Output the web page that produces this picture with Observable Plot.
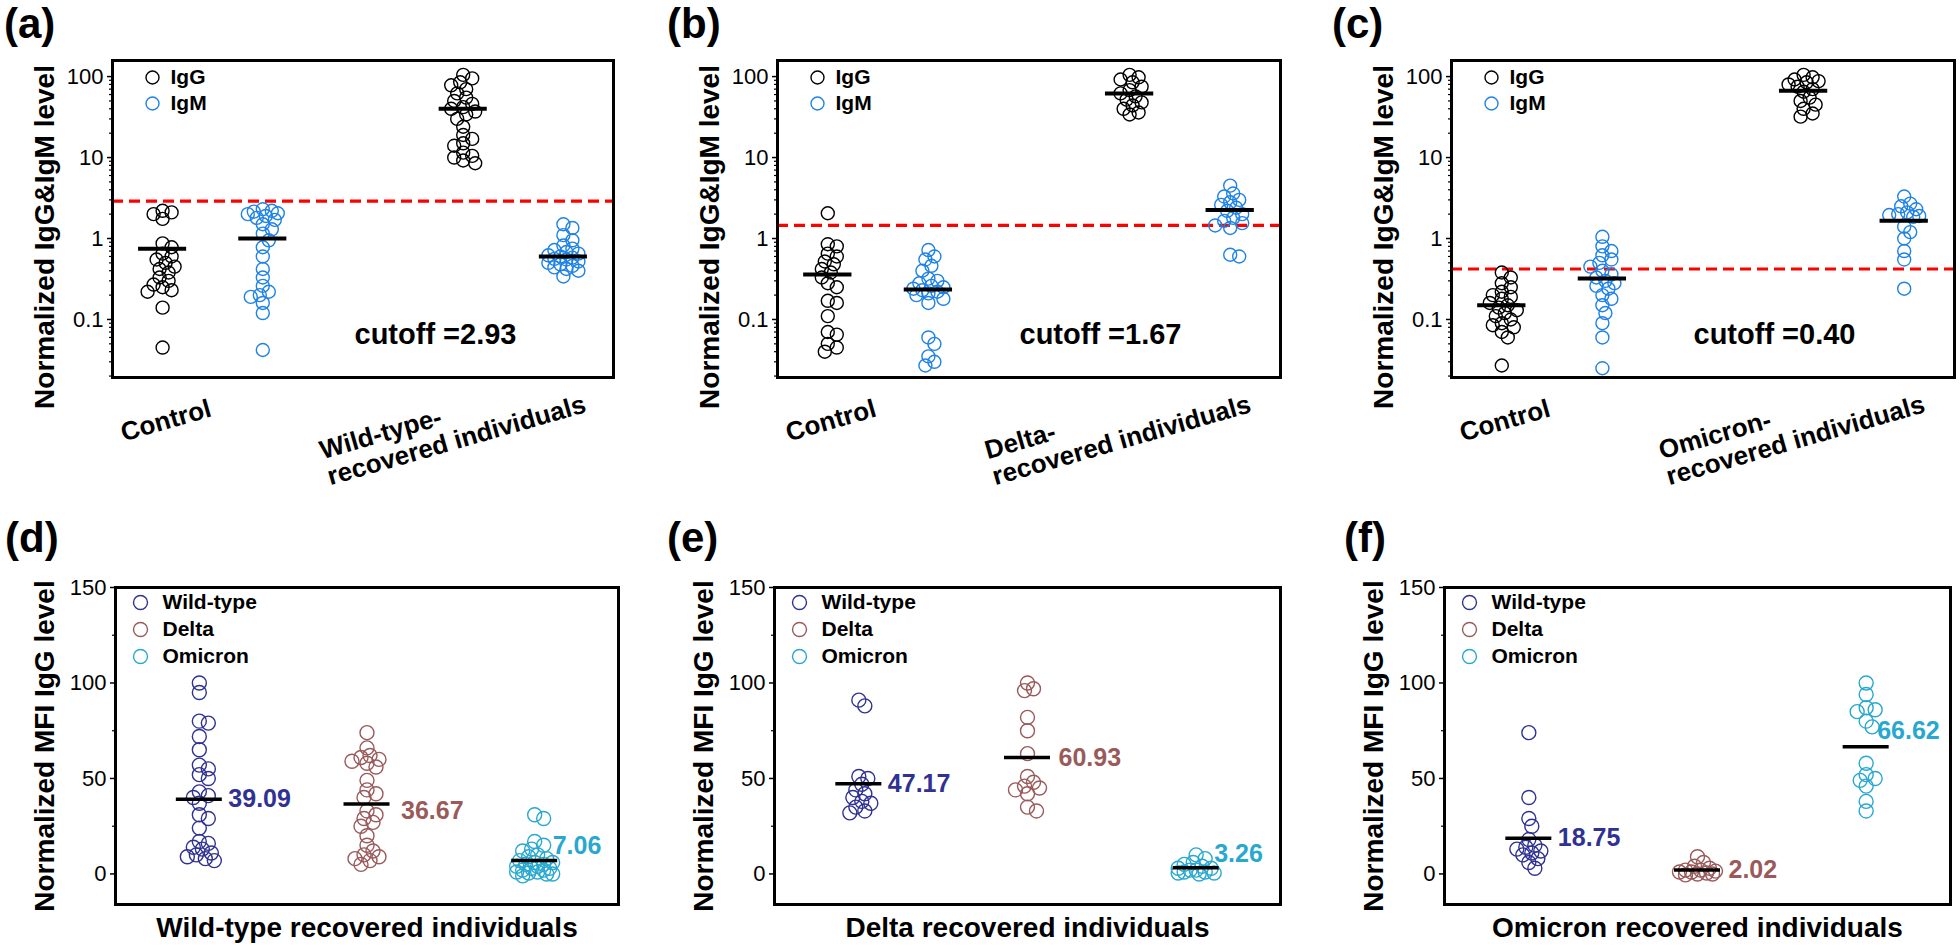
<!DOCTYPE html>
<html><head><meta charset="utf-8">
<script src="https://cdn.jsdelivr.net/npm/d3@7"></script>
<script src="https://cdn.jsdelivr.net/npm/@observablehq/plot@0.6"></script>
<style>
html,body{margin:0;padding:0;background:#fff;}
#fig{position:relative;width:1960px;height:948px;background:#fff;font-family:'Liberation Sans',Arial,Helvetica,sans-serif;overflow:hidden;}
.tag{position:absolute;font-weight:bold;font-size:42px;line-height:1.15;color:#000;}
</style></head><body><div id="fig"></div>
<script>
// ---------------- DATA ----------------
const isotypes = ["IgG", "IgM"];
const variants = ["Wild-type", "Delta", "Omicron"];
const tagsTop = ["(a)", "(b)", "(c)"];
const tagsBottom = ["(d)", "(e)", "(f)"];
const yLabelTop = "Normalized IgG&IgM level";
const yLabelBottom = "Normalized MFI IgG level";
const controlLabel = "Control";
const recoveredLabelsTop = ["Wild-type-\nrecovered individuals", "Delta-\nrecovered individuals", "Omicron-\nrecovered individuals"];
const xLabelsBottom = ["Wild-type recovered individuals", "Delta recovered individuals", "Omicron recovered individuals"];
const cutoffLabels = ["cutoff =2.93", "cutoff =1.67", "cutoff =0.40"];
const cutoffLevels = [2.9, 1.45, 0.42];
const logTicks = [0.1, 1, 10, 100];
const linTicks = [0, 50, 100, 150];
const linMinorTicks = [25, 75, 125];

// panel (a)
const aIgGControl = [2.2, 2.1, 2.0, 1.75, 0.87, 0.78, 0.65, 0.6, 0.55, 0.5, 0.45, 0.42, 0.38, 0.33, 0.3, 0.27, 0.25, 0.23, 0.22, 0.14, 0.045];
const aIgMControl = [2.3, 2.2, 2.15, 2.05, 2.0, 1.9, 1.8, 1.7, 1.5, 1.3, 1.15, 0.95, 0.78, 0.6, 0.42, 0.33, 0.26, 0.22, 0.2, 0.19, 0.16, 0.12, 0.042];
const aIgGRecovered = [105, 95, 85, 78, 70, 62, 55, 50, 46, 42, 40, 37, 34, 30, 24, 19, 17, 15, 14, 11.5, 10.5, 10, 9.2, 8.5];
const aIgMRecovered = [1.5, 1.35, 1.1, 0.95, 0.82, 0.75, 0.72, 0.68, 0.65, 0.62, 0.6, 0.58, 0.56, 0.55, 0.52, 0.5, 0.48, 0.46, 0.44, 0.42, 0.4, 0.34];
// panel (b)
const bIgGControl = [2.05, 0.85, 0.8, 0.65, 0.6, 0.52, 0.48, 0.42, 0.38, 0.33, 0.28, 0.25, 0.17, 0.16, 0.11, 0.07, 0.065, 0.05, 0.045, 0.04];
const bIgMControl = [0.72, 0.6, 0.55, 0.46, 0.4, 0.32, 0.3, 0.28, 0.26, 0.25, 0.24, 0.23, 0.22, 0.21, 0.2, 0.18, 0.16, 0.06, 0.05, 0.035, 0.03, 0.027];
const bIgGRecovered = [105, 98, 92, 85, 75, 68, 62, 57, 52, 48, 44, 40, 36, 34];
const bIgMRecovered = [4.5, 3.6, 3.3, 3.0, 2.8, 2.6, 2.4, 2.2, 2.0, 1.8, 1.65, 1.55, 1.45, 1.35, 0.63, 0.6];
// panel (c)
const cIgGControl = [0.38, 0.33, 0.28, 0.25, 0.22, 0.2, 0.19, 0.18, 0.16, 0.15, 0.14, 0.13, 0.12, 0.11, 0.1, 0.09, 0.085, 0.08, 0.07, 0.06, 0.027];
const cIgMControl = [1.05, 0.8, 0.7, 0.62, 0.55, 0.5, 0.45, 0.4, 0.36, 0.33, 0.3, 0.28, 0.26, 0.24, 0.2, 0.18, 0.15, 0.12, 0.09, 0.06, 0.025];
const cIgGRecovered = [105, 98, 92, 88, 85, 80, 75, 70, 65, 55, 50, 45, 40, 35, 32];
const cIgMRecovered = [3.3, 2.7, 2.5, 2.3, 2.1, 2.0, 1.95, 1.9, 1.85, 1.4, 1.2, 1.0, 0.7, 0.55, 0.24];
const topMeans = [[0.75, 1.0, 40, 0.6], [0.36, 0.235, 62, 2.25], [0.15, 0.32, 67, 1.66]];

// panels (d)-(f)
const dWildType = [100, 95, 80, 79, 72, 65, 57, 55, 52, 50, 43, 41, 40, 37, 31, 29, 24, 17, 16, 14, 13, 11, 10, 9, 8, 7];
const dDelta = [74, 66, 62, 61, 60, 59, 58, 56, 49, 44, 42, 40, 33, 31, 29, 27, 25, 20, 15, 12, 10, 9, 8, 7, 5];
const dOmicron = [31, 29, 17, 15, 13, 12, 10, 9, 8, 7, 6, 6, 5, 5, 4, 4, 3, 3, 2, 2, 1, 1, 0.5, 0, 0, -1];
const eWildType = [91, 88, 51, 50, 47, 44, 42, 40, 38, 37, 35, 33, 32];
const eDelta = [100, 97, 96, 82, 75, 63, 51, 48, 46, 45, 44, 42, 35, 33];
const eOmicron = [10, 8, 6, 5, 4, 3, 3, 2, 2, 1, 1, 0.5, 0.5, 0];
const fWildType = [74, 40, 29, 25, 18, 15, 14, 13, 12, 11, 10, 8, 6, 3];
const fDelta = [9, 6, 4, 3, 2, 2, 1.5, 1, 1, 0.5, 0, 0, -0.5];
const fOmicron = [100, 94, 87, 86, 85, 80, 77, 58, 52, 50, 49, 46, 38, 33];
const bottomMeans = [[39.09, 36.67, 7.06], [47.17, 60.93, 3.26], [18.75, 2.02, 66.62]];

// ---------------- STYLE / LAYOUT ----------------
const FONT = "'Liberation Sans', Arial, Helvetica, sans-serif";
const isoColors = ["#000000", "#1f82e6"];
const variantColors = ["#2f3292", "#9a5a5a", "#28a8d0"];
const topGroupX = [0.5, 1.5, 3.5, 4.5];
const botGroupX = [0.5, 1.5, 2.5];
const topYDomain = [0.0192, 158];
const botYDomain = [-16, 150];

const TOP = {top: 0, height: 480, mt: 60, mb: 103};
const BOT = {top: 480, height: 468, mt: 107, mb: 44};
const topCols = [{left: 0, width: 650, ml: 112, mr: 37}, {left: 650, width: 660, ml: 127, mr: 30}, {left: 1310, width: 650, ml: 141, mr: 6}];
const botCols = [{left: 0, width: 650, ml: 115, mr: 32}, {left: 650, width: 660, ml: 124, mr: 30}, {left: 1310, width: 650, ml: 134, mr: 10}];
const tagPosTop = [[4, 0], [667, 0], [1332, 0]];
const tagPosBot = [[5, 514], [667, 514], [1344, 514]];
// mean label offsets [dx, dy] per panel/group
const meanLabelOffsets = [[[6, 0], [11, 7], [-5, -14]], [[6, 0], [8, 0], [-5, -14]], [[6, 0], [8, 0], [-12, -16]]];

const fig = document.getElementById("fig");

// deterministic swarm layout (pixel offsets) so overlapping circles spread sideways
function swarm(values, py, minDist, step, maxOff) {
  const idx = d3.range(values.length).sort((a, b) => py(values[a]) - py(values[b]));
  const placed = [];
  const off = new Array(values.length).fill(0);
  const nSteps = Math.floor(maxOff / step);
  for (const i of idx) {
    const y = py(values[i]);
    let best = 0, bestScore = -Infinity;
    for (let k = 0; k <= 2 * nSteps; k++) {
      const o = (k % 2 ? 1 : -1) * Math.ceil(k / 2) * step;
      let md = Infinity;
      for (const p of placed) md = Math.min(md, Math.hypot(p[0] - o, p[1] - y));
      if (md >= minDist) { best = o; bestScore = Infinity; break; }
      if (md > bestScore) { bestScore = md; best = o; }
    }
    placed.push([best, y]);
    off[i] = best;
  }
  return off;
}

function place(node, left, top) {
  node.style.position = "absolute";
  node.style.left = left + "px";
  node.style.top = top + "px";
  fig.appendChild(node);
}

function addTag(text, pos) {
  const d = document.createElement("div");
  d.className = "tag";
  d.textContent = text;
  d.style.left = pos[0] + "px";
  d.style.top = pos[1] + "px";
  fig.appendChild(d);
}

const svgStyle = {fontFamily: FONT, fontSize: "21px", color: "#000", background: "transparent", overflow: "visible"};

// ---------------- TOP ROW ----------------
const topGroups = [
  [aIgGControl, aIgMControl, aIgGRecovered, aIgMRecovered],
  [bIgGControl, bIgMControl, bIgGRecovered, bIgMRecovered],
  [cIgGControl, cIgMControl, cIgGRecovered, cIgMRecovered]
];
const minorLog = [];
for (const dec of [0.01, 0.1, 1, 10, 100]) for (let m = 2; m <= 9; m++) {
  const v = +(m * dec).toPrecision(3);
  if (v > topYDomain[0] && v < topYDomain[1]) minorLog.push(v);
}

topGroups.forEach((groups, i) => {
  const L = topCols[i];
  const fw = L.width - L.ml - L.mr, fh = TOP.height - TOP.mt - TOP.mb;
  const ys = d3.scaleLog().domain(topYDomain).range([fh, 0]);
  const ppu = fw / 5;
  const dotMarks = groups.map((vals, g) => {
    const offs = swarm(vals, ys, 8, 3, 16);
    const rows = vals.map((v, j) => ({x: topGroupX[g] + offs[j] / ppu, y: v}));
    return Plot.dot(rows, {x: "x", y: "y", r: 6.5, stroke: isoColors[g % 2], strokeWidth: 1.4});
  });
  const meanRows = topMeans[i].map((m, g) => ({y: m, x1: topGroupX[g] - 0.24, x2: topGroupX[g] + 0.24}));
  const chart = Plot.plot({
    width: L.width, height: TOP.height,
    marginLeft: L.ml, marginRight: L.mr, marginTop: TOP.mt, marginBottom: TOP.mb,
    style: svgStyle,
    x: {domain: [0, 5], axis: null},
    y: {type: "log", domain: topYDomain, axis: null},
    marks: [
      Plot.ruleY([cutoffLevels[i]], {stroke: "#ff0000", strokeWidth: 3.2, strokeDasharray: "11,6"}),
      ...dotMarks,
      Plot.ruleY(meanRows, {y: "y", x1: "x1", x2: "x2", stroke: "#000", strokeWidth: 4}),
      Plot.axisY({ticks: logTicks, tickFormat: d => String(d), tickSize: 5, tickPadding: 4, fontSize: 22, strokeWidth: 1.5, label: null}),
      Plot.axisY({ticks: minorLog, tickFormat: () => "", tickSize: 3, strokeWidth: 1.2, label: null}),
      Plot.frame({stroke: "#000", strokeWidth: 3}),
      ...isotypes.map((t, k) => Plot.dot([t], {frameAnchor: "top-left", dx: 40, dy: 17 + 26 * k, r: 6.5, stroke: isoColors[k], strokeWidth: 1.4})),
      ...isotypes.map((t, k) => Plot.text([t], {frameAnchor: "top-left", dx: 58, dy: 17 + 26 * k, text: d => d, textAnchor: "start", lineAnchor: "middle", fontSize: 21, fontWeight: "bold"})),
      Plot.text([cutoffLabels[i]], {frameAnchor: "bottom-left", dx: 323, dy: -43, text: d => d, textAnchor: "middle", lineAnchor: "middle", fontSize: 29, fontWeight: "bold"}),
      Plot.text([controlLabel], {frameAnchor: "bottom-left", dx: 9, dy: 56, text: d => d, textAnchor: "start", lineAnchor: "middle", rotate: -16, fontSize: 26, fontWeight: "bold"}),
      Plot.text([recoveredLabelsTop[i]], {frameAnchor: "bottom-left", dx: 205, dy: 63, text: d => d, textAnchor: "start", lineAnchor: "top", lineHeight: 1.05, rotate: -16, fontSize: 26, fontWeight: "bold"}),
      Plot.text([yLabelTop], {frameAnchor: "left", dx: -67, dy: 18, text: d => d, rotate: -90, textAnchor: "middle", lineAnchor: "middle", fontSize: 28, fontWeight: "bold"})
    ]
  });
  place(chart, L.left, TOP.top);
  addTag(tagsTop[i], tagPosTop[i]);
});

// ---------------- BOTTOM ROW ----------------
const botGroups = [
  [dWildType, dDelta, dOmicron],
  [eWildType, eDelta, eOmicron],
  [fWildType, fDelta, fOmicron]
];

botGroups.forEach((groups, i) => {
  const L = botCols[i];
  const fw = L.width - L.ml - L.mr, fh = BOT.height - BOT.mt - BOT.mb;
  const ys = d3.scaleLinear().domain(botYDomain).range([fh, 0]);
  const ppu = fw / 3;
  const dotMarks = groups.map((vals, g) => {
    const offs = swarm(vals, ys, 8, 3, 18);
    const rows = vals.map((v, j) => ({x: botGroupX[g] + offs[j] / ppu, y: v}));
    return Plot.dot(rows, {x: "x", y: "y", r: 7, stroke: variantColors[g], strokeWidth: 1.4});
  });
  const half = 23 / ppu;
  const meanRows = bottomMeans[i].map((m, g) => ({y: m, x1: botGroupX[g] - half, x2: botGroupX[g] + half}));
  const labelMarks = bottomMeans[i].map((m, g) => Plot.text([m], {
    x: () => botGroupX[g] + half, y: d => d, text: d => d.toFixed(2),
    dx: meanLabelOffsets[i][g][0], dy: meanLabelOffsets[i][g][1],
    textAnchor: "start", lineAnchor: "middle", fill: variantColors[g], fontSize: 25, fontWeight: "bold"
  }));
  const chart = Plot.plot({
    width: L.width, height: BOT.height,
    marginLeft: L.ml, marginRight: L.mr, marginTop: BOT.mt, marginBottom: BOT.mb,
    style: svgStyle,
    x: {domain: [0, 3], axis: null},
    y: {domain: botYDomain, axis: null},
    marks: [
      ...dotMarks,
      Plot.ruleY(meanRows, {y: "y", x1: "x1", x2: "x2", stroke: "#000", strokeWidth: 3.5}),
      ...labelMarks,
      Plot.axisY({ticks: linTicks, tickFormat: d => String(d), tickSize: 5, tickPadding: 4, fontSize: 22, strokeWidth: 1.5, label: null}),
      Plot.axisY({ticks: linMinorTicks, tickFormat: () => "", tickSize: 3, strokeWidth: 1.2, label: null}),
      Plot.frame({stroke: "#000", strokeWidth: 3}),
      ...variants.map((t, k) => Plot.dot([t], {frameAnchor: "top-left", dx: 25, dy: 15 + 27 * k, r: 7, stroke: variantColors[k], strokeWidth: 1.4})),
      ...variants.map((t, k) => Plot.text([t], {frameAnchor: "top-left", dx: 47, dy: 15 + 27 * k, text: d => d, textAnchor: "start", lineAnchor: "middle", fontSize: 21, fontWeight: "bold"})),
      Plot.text([xLabelsBottom[i]], {frameAnchor: "bottom", dy: 24, text: d => d, textAnchor: "middle", lineAnchor: "middle", fontSize: 28, fontWeight: "bold"}),
      Plot.text([yLabelBottom], {frameAnchor: "left", dx: -70, dy: 0, text: d => d, rotate: -90, textAnchor: "middle", lineAnchor: "middle", fontSize: 28, fontWeight: "bold"})
    ]
  });
  place(chart, L.left, BOT.top);
  addTag(tagsBottom[i], tagPosBot[i]);
});
</script></body></html>
